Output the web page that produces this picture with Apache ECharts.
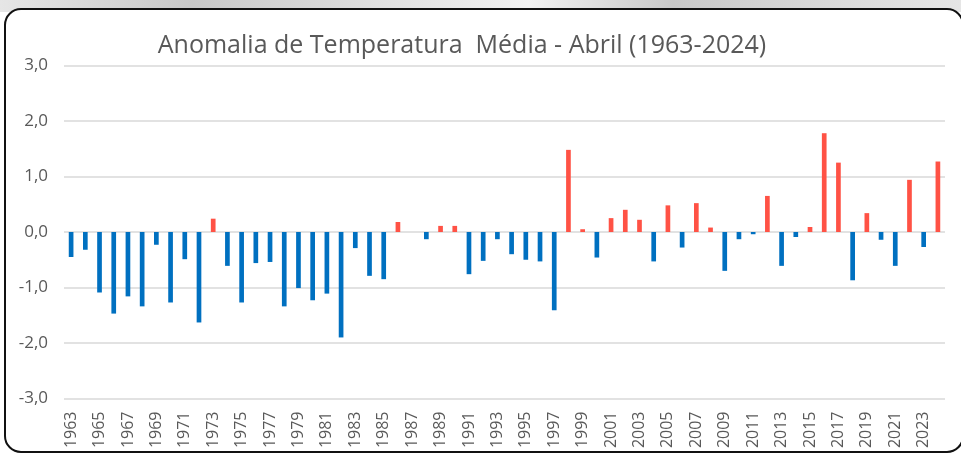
<!DOCTYPE html>
<html><head><meta charset="utf-8">
<script src="https://cdn.jsdelivr.net/npm/echarts@6/dist/echarts.min.js"></script>
<style>html,body{margin:0;padding:0;background:#fff}#c{width:961px;height:456px}</style>
</head><body><div id="c"></div>
<script>
const years = [];
for (let y = 1963; y <= 2024; y++) years.push(String(y));
const anomalies = [
 -0.45,-0.32,-1.09,-1.47,-1.16,-1.34,-0.23,-1.27,-0.49,-1.63,
  0.24,-0.61,-1.27,-0.56,-0.54,-1.34,-1.01,-1.23,-1.11,-1.90,
 -0.29,-0.79,-0.85, 0.18, 0.00,-0.13, 0.11, 0.11,-0.76,-0.52,
 -0.13,-0.40,-0.50,-0.53,-1.41, 1.48, 0.05,-0.46, 0.25, 0.40,
  0.22,-0.53, 0.48,-0.28, 0.52, 0.08,-0.70,-0.13,-0.04, 0.65,
 -0.61,-0.09, 0.09, 1.78, 1.25,-0.87, 0.34,-0.14,-0.61, 0.94,
 -0.27, 1.27
];
const titleText = 'Anomalia de Temperatura  Média - Abril (1963-2024)';
const yTicks = { min: -3, max: 3, interval: 1 };

const chart = echarts.init(document.getElementById('c'), null, {renderer:'canvas'});
chart.setOption({
  animation: false,
  backgroundColor: '#fff',
  graphic: [
    { type:'rect', left:0, top:0, shape:{width:961, height:12}, z:-10,
      style:{ fill: new echarts.graphic.LinearGradient(0,0,1,0,[
        {offset:0,color:'#e6e6e6'},{offset:0.2,color:'#c8c8c8'},{offset:0.4,color:'#e0e0e0'},
        {offset:0.55,color:'#f2f2f2'},{offset:0.7,color:'#c8c8c8'},{offset:0.85,color:'#d8d8d8'},{offset:1,color:'#e6e6e6'}]) } },
    { type:'rect', shape:{x:5, y:9, width:958, height:443, r:16}, z:-5,
      style:{ fill:'#fff', stroke:'#111', lineWidth:2 } }
  ],
  title: {
    text: titleText, left: 457, top: 28, textAlign: 'center',
    textStyle: { fontFamily:'Open Sans', fontSize: 25, fontWeight:'normal', color:'#595959' }
  },
  grid: { left: 64, right: 16, top: 65.5, bottom: 57.5, containLabel:false },
  xAxis: {
    type:'category', data: years, position:'bottom',
    axisLine:{ show:false, onZero:false }, axisTick:{ show:false },
    axisLabel:{ rotate:90, interval:1, margin:13, color:'#595959', fontSize:16, fontFamily:'Open Sans' }
  },
  yAxis: {
    type:'value', min:yTicks.min, max:yTicks.max, interval:yTicks.interval,
    axisLine:{show:false}, axisTick:{show:false},
    splitLine:{ lineStyle:{ color:'#d9d9d9', width:1.5 } },
    axisLabel:{ margin:16, color:'#595959', fontSize:17, fontFamily:'Open Sans',
      formatter: v => v.toFixed(1).replace('.', ',') }
  },
  series: [{
    type:'bar', data: anomalies, barWidth: '33%',
    itemStyle:{ color: p => p.value >= 0 ? '#FF5245' : '#0070C0' }
  }]
});
</script></body></html>
